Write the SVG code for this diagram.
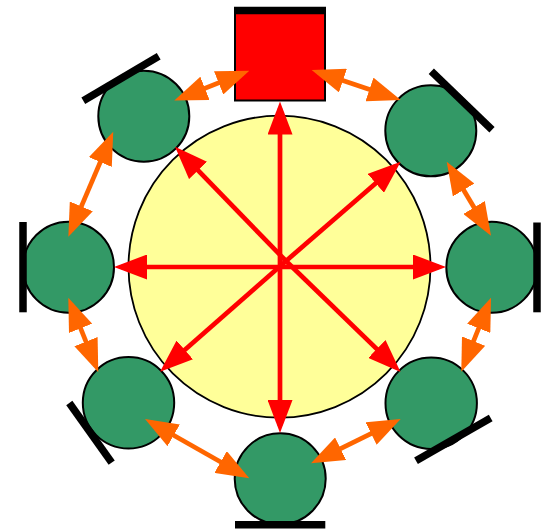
<svg xmlns="http://www.w3.org/2000/svg" width="542" height="530" viewBox="0 0 542 530">
<style>
.node{fill:#339966;stroke:#000;stroke-width:2}
.bar{stroke:#000;stroke-width:7.5;stroke-linecap:butt}
.red{stroke:#FF0000;stroke-width:4.7;fill:none;marker-end:url(#hr)}
.org{stroke:#FF6600;stroke-width:4.7;fill:none;marker-start:url(#ho);marker-end:url(#ho)}
</style>
<defs>
<marker id="hr" markerUnits="userSpaceOnUse" markerWidth="33" markerHeight="25" viewBox="0 0 33 25" refX="26" refY="12.5" orient="auto-start-reverse"><path d="M0,0 L33,12.5 L0,25 z" fill="#FF0000"/></marker>
<marker id="ho" markerUnits="userSpaceOnUse" markerWidth="33" markerHeight="25" viewBox="0 0 33 25" refX="26" refY="12.5" orient="auto-start-reverse"><path d="M0,0 L33,12.5 L0,25 z" fill="#FF6600"/></marker>
</defs>
<rect width="542" height="530" fill="#fff"/>
<g id="hub"><circle cx="279.5" cy="266.7" r="151" fill="#FFFF99" stroke="#000" stroke-width="1.8"/></g>
<g id="node-top"><rect x="235" y="10.5" width="90" height="90" fill="#FF0000" stroke="#000" stroke-width="2"/><line class="bar" x1="234" y1="10.5" x2="326" y2="10.5"/></g>
<g id="node-tl"><circle class="node" cx="143.8" cy="116.2" r="45.5"/><line class="bar" x1="83.3" y1="100.8" x2="158.7" y2="56.3"/></g>
<g id="node-tr"><circle class="node" cx="430.8" cy="130.8" r="45.5"/><line class="bar" x1="431.3" y1="71.2" x2="492" y2="129.8"/></g>
<g id="node-l"><circle class="node" cx="68.5" cy="267.2" r="45.5"/><line class="bar" x1="23" y1="222" x2="23" y2="312.3"/></g>
<g id="node-r"><circle class="node" cx="491.8" cy="267.2" r="45.5"/><line class="bar" x1="537" y1="222.5" x2="537" y2="312.3"/></g>
<g id="node-bl"><circle class="node" cx="128.5" cy="402.8" r="45.7"/><line class="bar" x1="69.3" y1="403" x2="111.7" y2="462.7"/></g>
<g id="node-br"><circle class="node" cx="431.2" cy="403.2" r="45.7"/><line class="bar" x1="416" y1="460.7" x2="490.7" y2="418"/></g>
<g id="node-b"><circle class="node" cx="280.2" cy="478.8" r="45.5"/><line class="bar" x1="235" y1="524.7" x2="325.3" y2="524.7"/></g>
<g id="connectors">
<line class="red" x1="280" y1="267" x2="280" y2="108.5"/>
<line class="red" x1="280" y1="267" x2="280" y2="426"/>
<line class="red" x1="280" y1="267" x2="121" y2="267"/>
<line class="red" x1="280" y1="267" x2="439" y2="267"/>
<line class="red" x1="286" y1="261" x2="179.9" y2="151.7"/>
<line class="red" x1="286" y1="261" x2="395.4" y2="166.3"/>
<line class="red" x1="286" y1="261" x2="165.3" y2="367.1"/>
<line class="red" x1="286" y1="261" x2="395.5" y2="367.1"/>
<line class="org" x1="180.8" y1="97.9" x2="242.8" y2="73.3"/>
<line class="org" x1="318.3" y1="72.2" x2="394.1" y2="97.8"/>
<line class="org" x1="450.3" y1="167.7" x2="487.4" y2="229.8"/>
<line class="org" x1="110.5" y1="138.1" x2="71.1" y2="230.3"/>
<line class="org" x1="70.9" y1="304.2" x2="95.7" y2="365.8"/>
<line class="org" x1="488.4" y1="304.2" x2="463.9" y2="365.2"/>
<line class="org" x1="151.1" y1="422.5" x2="243.2" y2="474.8"/>
<line class="org" x1="317.3" y1="460.2" x2="394.4" y2="422.1"/>
</g>
</svg>
